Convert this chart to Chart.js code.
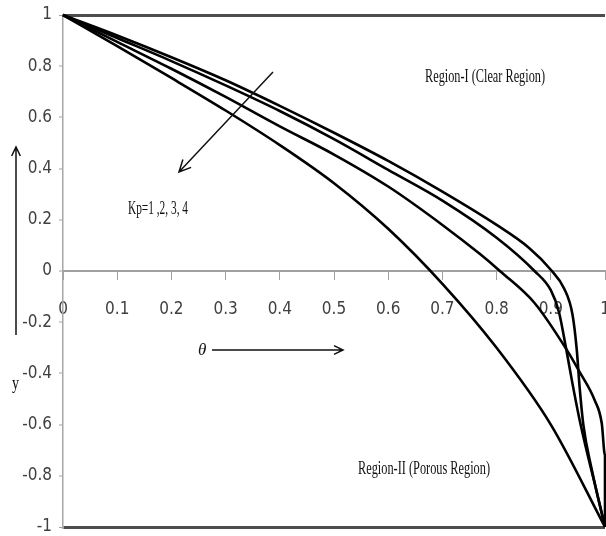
<!DOCTYPE html>
<html>
<head>
<meta charset="utf-8">
<script src="https://cdn.jsdelivr.net/npm/chart.js@4.4.1/dist/chart.umd.min.js"></script>
<style>
  html, body { margin: 0; padding: 0; background: #fff; overflow: hidden; }
  #wrap { position: relative; width: 606px; height: 536px; }
</style>
</head>
<body>
<div id="wrap"><canvas id="chart" width="606" height="536"></canvas></div>
<script>
// tick labels
const xTicks = [0, 0.1, 0.2, 0.3, 0.4, 0.5, 0.6, 0.7, 0.8, 0.9, 1];
const yTicks = [-1, -0.8, -0.6, -0.4, -0.2, 0, 0.2, 0.4, 0.6, 0.8, 1];

// curve A (crosses zero near 0.68)
const thetaA = [0, 0.1, 0.2, 0.3, 0.4, 0.5, 0.6, 0.7, 0.8, 0.9, 1];
const valA   = [1, 0.878, 0.754, 0.627, 0.492, 0.343, 0.165, -0.05, -0.3, -0.6, -1];

// curve B (crosses zero near 0.90)
const thetaB = [0, 0.1, 0.2, 0.3, 0.4, 0.5, 0.6, 0.7, 0.8, 0.86, 0.9, 0.925, 0.94, 0.948, 0.953, 0.96, 0.975, 1];
const valB   = [1, 0.92, 0.835, 0.745, 0.645, 0.54, 0.43, 0.31, 0.18, 0.09, 0.005, -0.07, -0.17, -0.31, -0.45, -0.6, -0.77, -1];

// curve C (crosses zero near 0.87)
const thetaC = [0, 0.1, 0.2, 0.3, 0.4, 0.5, 0.6, 0.7, 0.8, 0.87, 0.9, 0.915, 0.928, 0.94, 0.952, 0.967, 0.981, 1];
const valC   = [1, 0.91, 0.82, 0.725, 0.625, 0.515, 0.395, 0.275, 0.13, 0, -0.075, -0.16, -0.3, -0.44, -0.57, -0.71, -0.83, -1];

// curve D (crosses zero near 0.81)
const thetaD = [0, 0.1, 0.2, 0.3, 0.4, 0.5, 0.6, 0.7, 0.77, 0.806, 0.87, 0.93, 0.952, 0.981, 0.994, 1, 1];
const valD   = [1, 0.895, 0.79, 0.68, 0.565, 0.455, 0.33, 0.18, 0.065, 0, -0.125, -0.31, -0.39, -0.505, -0.595, -0.72, -1];

const toPoints = (xs, ys) => xs.map((x, i) => ({ x: x, y: ys[i] }));

const tickFont = { family: '"Liberation Sans Narrow", "DejaVu Sans Condensed", "Liberation Sans", sans-serif', size: 17 };

// free text and arrows drawn on top (pixel positions)
const notes = [
  { text: 'Region-I (Clear Region)', x: 425, y: 82, w: 120, size: 19 },
  { text: 'Kp=1 ,2, 3, 4', x: 128, y: 214, w: 60, size: 18 },
  { text: 'Region-II (Porous Region)', x: 358, y: 474, w: 132, size: 19 },
  { text: 'y', x: 12, y: 389, w: 7, size: 18 }
];

function arrow(ctx, x1, y1, x2, y2, head) {
  const a = Math.atan2(y2 - y1, x2 - x1);
  ctx.beginPath();
  ctx.moveTo(x1, y1);
  ctx.lineTo(x2, y2);
  ctx.moveTo(x2 - head * Math.cos(a - 0.45), y2 - head * Math.sin(a - 0.45));
  ctx.lineTo(x2, y2);
  ctx.lineTo(x2 - head * Math.cos(a + 0.45), y2 - head * Math.sin(a + 0.45));
  ctx.stroke();
}

const annotations = {
  id: 'annotations',
  afterDraw(chart) {
    const ctx = chart.ctx;
    ctx.save();
    ctx.fillStyle = '#111';
    ctx.textBaseline = 'alphabetic';
    notes.forEach(n => {
      ctx.font = n.size + 'px "Liberation Serif", serif';
      const m = ctx.measureText(n.text).width;
      ctx.save();
      ctx.translate(n.x, n.y);
      ctx.scale(n.w / m, 1);
      ctx.fillText(n.text, 0, 0);
      ctx.restore();
    });
    ctx.font = 'italic 17px "Liberation Serif", serif';
    ctx.fillText('\u03B8', 198, 355);

    ctx.strokeStyle = '#111';
    ctx.lineWidth = 1.5;
    arrow(ctx, 212, 350, 343, 350, 10);
    arrow(ctx, 16, 335, 16, 147, 10);
    arrow(ctx, 273, 72, 179, 172, 13);
    ctx.restore();
  }
};

new Chart(document.getElementById('chart'), {
  type: 'scatter',
  data: {
    datasets: [
      { data: toPoints(thetaA, valA) },
      { data: toPoints(thetaB, valB) },
      { data: toPoints(thetaC, valC) },
      { data: toPoints(thetaD, valD) }
    ]
  },
  options: {
    responsive: false,
    animation: false,
    devicePixelRatio: 1,
    layout: { padding: { top: 15, right: 1, bottom: 9, left: 0 } },
    elements: {
      line: { borderColor: '#000', borderWidth: 2.6, cubicInterpolationMode: 'monotone', fill: false },
      point: { radius: 0, hoverRadius: 0 }
    },
    datasets: { scatter: { showLine: true, clip: false } },
    plugins: { legend: { display: false }, tooltip: { enabled: false } },
    scales: {
      x: {
        type: 'linear', min: 0, max: 1,
        position: { y: 0 },
        afterBuildTicks: s => { s.ticks = xTicks.map(v => ({ value: v })); },
        afterFit: s => { s.height = 0; s.paddingLeft = 0; s.paddingRight = 0; },
        grid: { drawOnChartArea: false, tickLength: 8, color: '#a0a0a0', tickWidth: 1 },
        border: { color: '#a0a0a0', width: 2 },
        ticks: { font: tickFont, color: '#404040', padding: 20, maxRotation: 0, autoSkip: false,
                 callback: v => String(v) }
      },
      y: {
        type: 'linear', min: -1, max: 1,
        position: 'left',
        afterBuildTicks: s => { s.ticks = yTicks.map(v => ({ value: v })); },
        afterFit: s => { s.width = 63; s.paddingTop = 0; s.paddingBottom = 0; },
        grid: {
          color: c => (c.tick && Math.abs(c.tick.value) === 1) ? '#4d4d4d' : 'rgba(0,0,0,0)',
          lineWidth: c => (c.tick && Math.abs(c.tick.value) === 1) ? 3 : 0,
          tickColor: '#a0a0a0', tickLength: 4, tickWidth: 1
        },
        border: { color: '#a6a6a6', width: 1.5 },
        ticks: { font: tickFont, color: '#404040', padding: 7, autoSkip: false,
                 callback: v => String(v) }
      }
    }
  },
  plugins: [annotations]
});
</script>
</body>
</html>
